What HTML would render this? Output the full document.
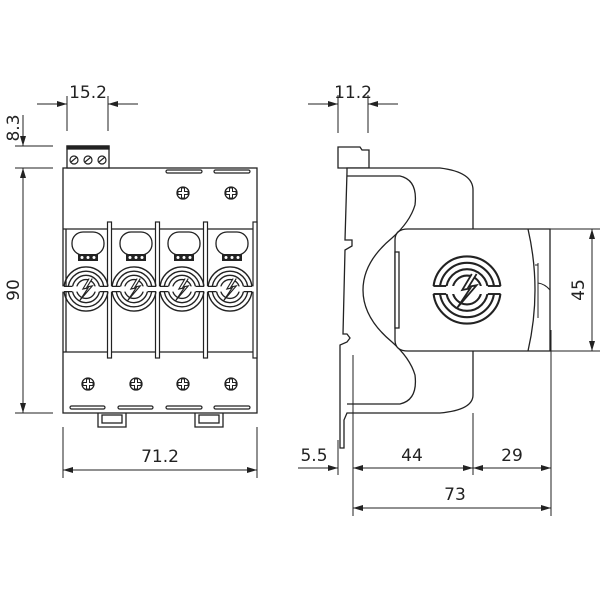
<!DOCTYPE html>
<html><head><meta charset="utf-8"><style>
html,body{margin:0;padding:0;background:#fff;}
svg{display:block;}
text{font-family:"DejaVu Sans","Liberation Sans",sans-serif;font-size:17px;fill:#222;}
</style></head><body>
<svg width="600" height="600" viewBox="0 0 600 600" xmlns="http://www.w3.org/2000/svg">
<defs>
<marker id="a" viewBox="0 0 10 6" refX="10" refY="3" markerWidth="10" markerHeight="6" orient="auto-start-reverse" markerUnits="userSpaceOnUse"><path d="M0,0 L10,3 L0,6 z" fill="#222"/></marker>
<g id="logo">
 <circle r="21" fill="none" stroke="#222" stroke-width="1.3"/>
 <circle r="17" fill="none" stroke="#222" stroke-width="1.3"/>
 <circle r="13" fill="none" stroke="#222" stroke-width="1.3"/>
 <circle r="9" fill="none" stroke="#222" stroke-width="1.3"/>
 <rect x="-23" y="-2.5" width="46" height="5" fill="#fff"/>
 <line x1="-21" y1="-2.5" x2="-13" y2="-2.5" stroke="#222" stroke-width="1.2"/>
 <line x1="-21" y1="2.5" x2="-13" y2="2.5" stroke="#222" stroke-width="1.2"/>
 <line x1="13" y1="-2.5" x2="21" y2="-2.5" stroke="#222" stroke-width="1.2"/>
 <line x1="13" y1="2.5" x2="21" y2="2.5" stroke="#222" stroke-width="1.2"/>
 <path d="M3,-10 L-3,0 L2,-1 L-6,11 L6,-3 L1,-2 L6,-10" fill="#fff" stroke="#222" stroke-width="1.1"/>
</g>
<g id="screw">
 <circle r="6" fill="#fff" stroke="#222" stroke-width="1.3"/>
 <path d="M-1.5,-5 h3 v3.5 h3.5 v3 h-3.5 v3.5 h-3 v-3.5 h-3.5 v-3 h3.5z" fill="#fff" stroke="#222" stroke-width="1"/>
</g>
<g id="mod">
 <rect x="72" y="232" width="32" height="23" rx="11" fill="#fff" stroke="#222" stroke-width="1.3"/>
 <rect x="78" y="254" width="20" height="7" fill="#222"/>
 <circle cx="82" cy="257.5" r="1.5" fill="#fff"/><circle cx="88" cy="257.5" r="1.5" fill="#fff"/><circle cx="94" cy="257.5" r="1.5" fill="#fff"/>
 <use href="#logo" transform="translate(86,289) scale(1.05)"/>
</g>
</defs>
<g stroke="#222" stroke-width="1.3" fill="none">
<rect x="63" y="168" width="194" height="245" fill="#fff"/>
<rect x="67" y="146" width="42" height="22" fill="#fff"/>
<rect x="67" y="146" width="42" height="3" fill="#222"/>
<line x1="63" y1="229" x2="257" y2="229"/>
<line x1="63" y1="352" x2="257" y2="352"/>
<line x1="66" y1="229" x2="66" y2="352"/>
<g stroke-width="1.2">
<rect x="107.5" y="222" width="4" height="136" fill="#fff"/>
<rect x="155.5" y="222" width="4" height="136" fill="#fff"/>
<rect x="203.5" y="222" width="4" height="136" fill="#fff"/>
<rect x="253" y="222" width="4" height="136" fill="#fff"/>
</g>
<g stroke-width="1.2">
<rect x="166" y="170" width="36" height="3" rx="1.5"/>
<rect x="214" y="170" width="36" height="3" rx="1.5"/>
<rect x="70" y="406" width="35" height="3" rx="1.5"/>
<rect x="118" y="406" width="35" height="3" rx="1.5"/>
<rect x="166" y="406" width="36" height="3" rx="1.5"/>
<rect x="214" y="406" width="36" height="3" rx="1.5"/>
</g>
<path d="M98,413 v14 h28 v-14"/><rect x="102" y="415" width="20" height="8"/>
<path d="M195,413 v14 h28 v-14"/><rect x="199" y="415" width="20" height="8"/>
</g>
<g>
<circle cx="74" cy="160" r="4" fill="#fff" stroke="#222" stroke-width="1.2"/>
<circle cx="88" cy="160" r="4" fill="#fff" stroke="#222" stroke-width="1.2"/>
<circle cx="102" cy="160" r="4" fill="#fff" stroke="#222" stroke-width="1.2"/>
<path d="M71,162 l6,-5 M85,162 l6,-5 M99,162 l6,-5" stroke="#222" stroke-width="1.2"/>
<use href="#screw" x="183" y="193"/><use href="#screw" x="231" y="193"/>
<use href="#screw" x="88" y="384"/><use href="#screw" x="136" y="384"/><use href="#screw" x="183" y="384"/><use href="#screw" x="231" y="384"/>
<use href="#mod"/><use href="#mod" x="48"/><use href="#mod" x="96"/><use href="#mod" x="144"/>
</g>
<g stroke="#222" stroke-width="1">
<line x1="67" y1="96" x2="67" y2="131"/><line x1="108" y1="96" x2="108" y2="131"/>
<line x1="37" y1="104" x2="67" y2="104" marker-end="url(#a)"/><line x1="138" y1="104" x2="108" y2="104" marker-end="url(#a)"/>
<line x1="15" y1="146" x2="53" y2="146"/><line x1="15" y1="168" x2="53" y2="168"/><line x1="15" y1="413" x2="53" y2="413"/>
<line x1="23" y1="115" x2="23" y2="146" marker-end="url(#a)"/>
<line x1="23" y1="168" x2="23" y2="413" marker-start="url(#a)" marker-end="url(#a)"/>
<line x1="63" y1="427" x2="63" y2="478"/><line x1="257" y1="427" x2="257" y2="478"/>
<line x1="63" y1="470" x2="257" y2="470" marker-start="url(#a)" marker-end="url(#a)"/>
</g>
<text x="88" y="98" text-anchor="middle">15.2</text>
<text transform="translate(19,128) rotate(-90)" text-anchor="middle">8.3</text>
<text transform="translate(19,290) rotate(-90)" text-anchor="middle">90</text>
<text x="160" y="462" text-anchor="middle">71.2</text>

<g stroke="#222" stroke-width="1.3" fill="#fff">
<path d="M338,147 h22 l2,3 h7 v18 h-31 z"/>
<path d="M347,168 H440 Q473,172 473,190 V395 Q473,410 440,413 H347 L344,420 V448 H340 V345 L347,342 L350,338 L347,334 L343,334 L345,250 L352,246 L352,240 L345,240 L347,172 Z"/>
<path d="M347,176 H400 Q418,180 415,205 Q410,222 392,238 Q363,262 363,290 Q363,318 392,342 Q410,358 415,375 Q418,400 400,404 H347" fill="none"/>
<path d="M395,240 Q395,229 408,229 H550 V351 H408 Q395,351 395,340 Z"/>
<path d="M528,229 Q542,290 528,351" fill="none"/>
<path d="M535,265 h3 M538,263 V318" fill="none" stroke-width="1"/>
<path d="M538,283 Q545,284 550,290" fill="none" stroke-width="1"/>
<rect x="395" y="252" width="4" height="76" fill="#fff"/>
</g>
<use href="#logo" transform="translate(467,290) scale(1.6)"/>
<g stroke="#222" stroke-width="1">
<line x1="338" y1="95" x2="338" y2="133"/><line x1="368" y1="95" x2="368" y2="133"/>
<line x1="308" y1="104" x2="338" y2="104" marker-end="url(#a)"/><line x1="398" y1="104" x2="368" y2="104" marker-end="url(#a)"/>
<line x1="550" y1="229" x2="600" y2="229"/><line x1="550" y1="351" x2="600" y2="351"/>
<line x1="592" y1="229" x2="592" y2="351" marker-start="url(#a)" marker-end="url(#a)"/>
<line x1="338" y1="440" x2="338" y2="475"/>
<line x1="353" y1="355" x2="353" y2="516"/>
<line x1="473" y1="413" x2="473" y2="475"/>
<line x1="551" y1="330" x2="551" y2="516"/>
<line x1="298" y1="468" x2="338" y2="468" marker-end="url(#a)"/>
<line x1="353" y1="468" x2="473" y2="468" marker-start="url(#a)" marker-end="url(#a)"/>
<line x1="473" y1="468" x2="551" y2="468" marker-start="url(#a)" marker-end="url(#a)"/>
<line x1="353" y1="508" x2="551" y2="508" marker-start="url(#a)" marker-end="url(#a)"/>
</g>
<text x="353" y="98" text-anchor="middle">11.2</text>
<text transform="translate(584,290) rotate(-90)" text-anchor="middle">45</text>
<text x="314" y="461" text-anchor="middle">5.5</text>
<text x="412" y="461" text-anchor="middle">44</text>
<text x="512" y="461" text-anchor="middle">29</text>
<text x="455" y="500" text-anchor="middle">73</text>
</svg>
</body></html>
